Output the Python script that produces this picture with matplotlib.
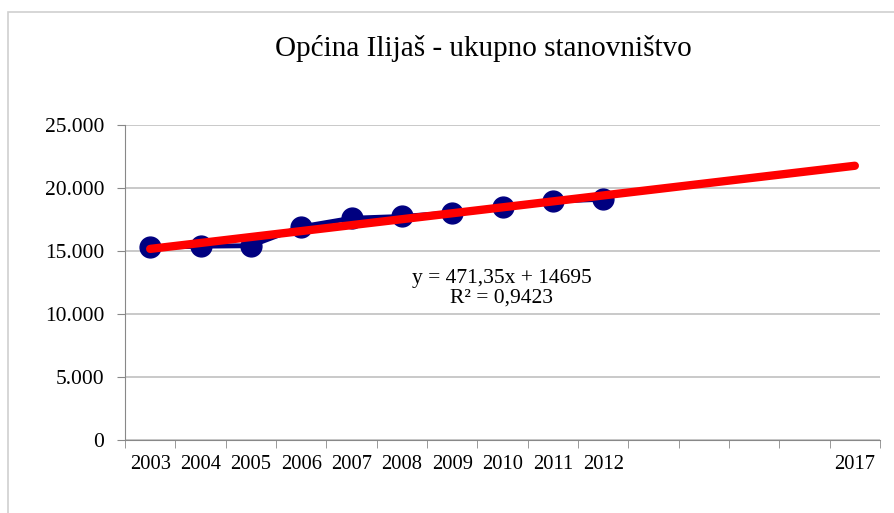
import numpy as np
import matplotlib.pyplot as plt
from matplotlib.patches import Rectangle
from matplotlib.ticker import FuncFormatter

plt.rcParams['font.family'] = ['Liberation Serif', 'DejaVu Serif']

# data
years = ['2003', '2004', '2005', '2006', '2007', '2008', '2009', '2010', '2011', '2012',
         '', '', '', '', '2017']
population = [15280, 15380, 15420, 16920, 17600, 17740, 18030, 18470, 18950, 19110]

# linear trend from the chart
slope = 471.35
intercept = 14695
r2 = 0.9423

fig = plt.figure(figsize=(8.94, 5.13), dpi=100)
# outer chart border
fig.patches.append(Rectangle((8 / 894, -0.05), 1.1, 1 - 12 / 513 + 0.05,
                             transform=fig.transFigure, fill=False,
                             edgecolor='#d0d0d0', linewidth=1.2))

ax = fig.add_axes([125 / 894, 73 / 513, 755 / 894, 315 / 513])

pos = np.arange(len(years))
ax.plot(pos[:len(population)], population, color='#000080', linewidth=3.5,
        marker='o', markersize=15, zorder=3)

xt = np.arange(1, len(years) + 1)
ax.plot(pos, slope * xt + intercept, color='#ff0000', linewidth=6,
        solid_capstyle='round', zorder=4)

ax.set_xlim(-0.5, len(years) - 0.5)
ax.set_ylim(0, 25000)
ax.set_yticks(range(0, 25001, 5000))
ax.yaxis.set_major_formatter(FuncFormatter(lambda v, p: f'{int(v):,}'.replace(',', '.')))
ax.set_xticks(pos)
ax.set_xticklabels(years)
ax.set_xticks(np.arange(-0.5, len(years)), minor=True)
ax.tick_params(axis='x', which='major', length=0, pad=11, labelsize=14.8)
ax.tick_params(axis='x', which='minor', length=6, color='#888888')
ax.tick_params(axis='y', length=6, color='#888888', pad=9, labelsize=15.5)

ax.grid(axis='y', color='#c0c0c0', linewidth=1.2)
ax.set_axisbelow(True)
for s in ['top', 'right']:
    ax.spines[s].set_visible(False)
for s in ['left', 'bottom']:
    ax.spines[s].set_color('#888888')

ax.text(6.98, 12060, f'y = {slope:.2f}x + {intercept}'.replace('.', ',') + '\n' +
        f'R² = {r2}'.replace('.', ','), ha='center', va='center', fontsize=15.5,
        linespacing=1.05)

fig.text(483 / 894, 1 - 48 / 513, 'Općina Ilijaš - ukupno stanovništvo',
         ha='center', va='center', fontsize=21)

fig.savefig('out.png', dpi=100)
